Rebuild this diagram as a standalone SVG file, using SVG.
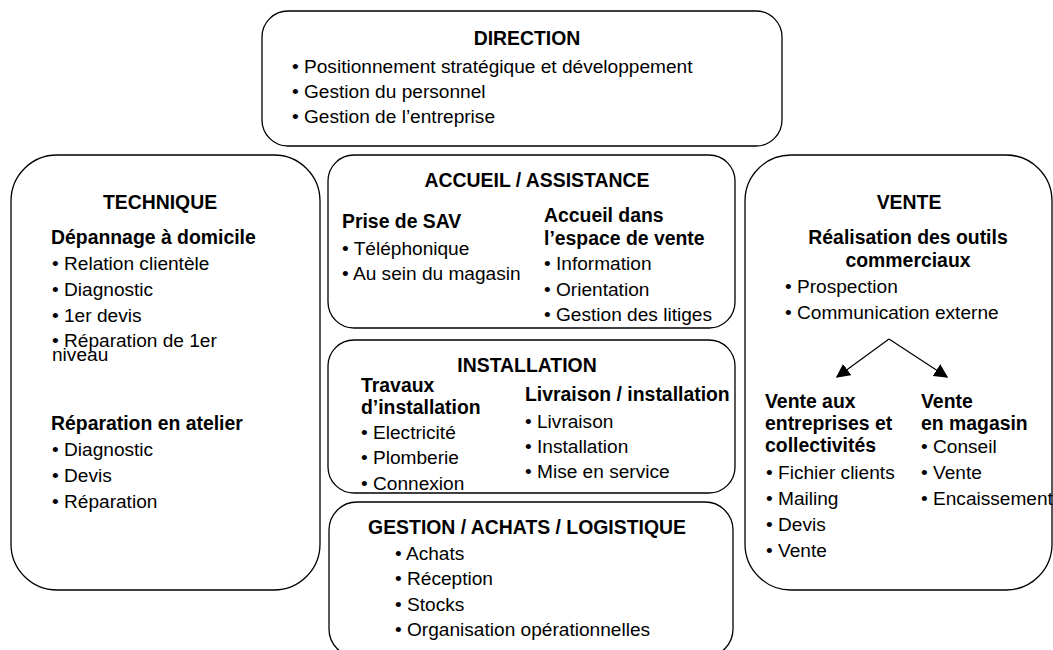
<svg xmlns="http://www.w3.org/2000/svg" width="1053" height="650" viewBox="0 0 1053 650">
<style>
.box{fill:#fff;stroke:#000;stroke-width:1.3}
text{font-family:"Liberation Sans",Arial,sans-serif;font-size:19.1px;fill:#000}
.b{font-weight:bold;font-size:19.4px}
.c{text-anchor:middle}
.con{stroke:#000;stroke-width:1.2;fill:none}
</style>
<defs>
<marker id="ah" viewBox="0 0 10 10" refX="9" refY="5" markerWidth="14" markerHeight="14" markerUnits="userSpaceOnUse" orient="auto">
<path d="M0,0 L10,5 L0,10 z" fill="#000"/>
</marker>
</defs>
<rect width="1053" height="650" fill="#fff"/>

<g id="direction">
<rect class="box" x="262" y="11" width="520" height="135" rx="26" ry="26"/>
<text class="b c" x="527" y="45">DIRECTION</text>
<text x="292" y="73">• Positionnement stratégique et développement</text>
<text x="292" y="98">• Gestion du personnel</text>
<text x="292" y="123">• Gestion de l’entreprise</text>
</g>

<g id="technique">
<rect class="box" x="11" y="155" width="309" height="435" rx="46" ry="46"/>
<text class="b c" x="160" y="209">TECHNIQUE</text>
<text class="b" x="51" y="244">Dépannage à domicile</text>
<text x="52" y="270">• Relation clientèle</text>
<text x="52" y="296">• Diagnostic</text>
<text x="52" y="322">• 1er devis</text>
<text x="52" y="347">• Réparation de 1er</text>
<text x="52" y="361">niveau</text>
<text class="b" x="51" y="430">Réparation en atelier</text>
<text x="52" y="456">• Diagnostic</text>
<text x="52" y="482">• Devis</text>
<text x="52" y="508">• Réparation</text>
</g>

<g id="accueil">
<rect class="box" x="328" y="155" width="407" height="173" rx="26" ry="26"/>
<text class="b c" x="537" y="187">ACCUEIL / ASSISTANCE</text>
<text class="b" x="342" y="228">Prise de SAV</text>
<text x="342" y="255">• Téléphonique</text>
<text x="342" y="280">• Au sein du magasin</text>
<text class="b" x="544" y="222">Accueil dans</text>
<text class="b" x="544" y="245">l’espace de vente</text>
<text x="544" y="270">• Information</text>
<text x="544" y="296">• Orientation</text>
<text x="544" y="321">• Gestion des litiges</text>
</g>

<g id="installation">
<rect class="box" x="328" y="340" width="407" height="153" rx="26" ry="26"/>
<text class="b c" x="527" y="372">INSTALLATION</text>
<text class="b" x="361" y="392">Travaux</text>
<text class="b" x="361" y="414">d’installation</text>
<text x="361" y="439">• Electricité</text>
<text x="361" y="464">• Plomberie</text>
<text x="361" y="490">• Connexion</text>
<text class="b" x="525" y="401">Livraison / installation</text>
<text x="525" y="428">• Livraison</text>
<text x="525" y="453">• Installation</text>
<text x="525" y="478">• Mise en service</text>
</g>

<g id="gestion">
<rect class="box" x="329" y="502" width="404" height="155" rx="28" ry="28"/>
<text class="b c" x="527" y="534">GESTION / ACHATS / LOGISTIQUE</text>
<text x="395" y="560">• Achats</text>
<text x="395" y="585">• Réception</text>
<text x="395" y="611">• Stocks</text>
<text x="395" y="636">• Organisation opérationnelles</text>
</g>

<g id="vente">
<rect class="box" x="745" y="155" width="307" height="435" rx="46" ry="46"/>
<text class="b c" x="909" y="209">VENTE</text>
<text class="b c" x="908" y="244">Réalisation des outils</text>
<text class="b c" x="908" y="267">commerciaux</text>
<text x="785" y="293">• Prospection</text>
<text x="785" y="319">• Communication externe</text>
<text class="b" x="765" y="408">Vente aux</text>
<text class="b" x="765" y="430">entreprises et</text>
<text class="b" x="765" y="452">collectivités</text>
<text x="766" y="479">• Fichier clients</text>
<text x="766" y="505">• Mailing</text>
<text x="766" y="531">• Devis</text>
<text x="766" y="557">• Vente</text>
<text class="b" x="921" y="408">Vente</text>
<text class="b" x="921" y="430">en magasin</text>
<text x="921" y="453">• Conseil</text>
<text x="921" y="479">• Vente</text>
<text x="921" y="505">• Encaissement</text>
</g>

<g id="connectors">
<line class="con" x1="889" y1="339" x2="837" y2="377" marker-end="url(#ah)"/>
<line class="con" x1="889" y1="339" x2="947" y2="377" marker-end="url(#ah)"/>
</g>
</svg>
